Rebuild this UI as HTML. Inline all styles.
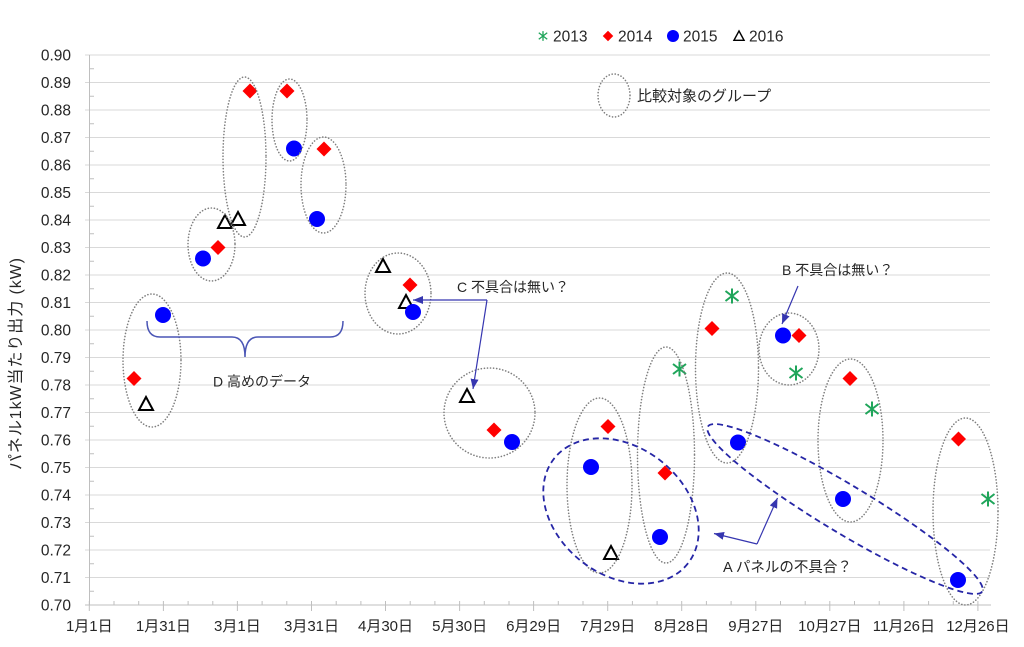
<!DOCTYPE html>
<html><head><meta charset="utf-8">
<style>
html,body{margin:0;padding:0;background:#fff;}
svg{display:block;}
text{font-family:"Liberation Sans","Noto Sans CJK JP",sans-serif;fill:#262626;}
</style></head><body>
<svg width="1024" height="647" viewBox="0 0 1024 647" xmlns="http://www.w3.org/2000/svg">
<defs>
<marker id="ah" markerUnits="userSpaceOnUse" markerWidth="10" markerHeight="8" refX="10" refY="4" orient="auto">
<path d="M0,0 L10,4 L0,8 z" fill="#3636b0"/>
</marker>
<g id="cir"><circle r="8" fill="#0000ff"/></g>
<g id="dia"><polygon points="0,-7.5 7.5,0 0,7.5 -7.5,0" fill="#ff0000"/></g>
<g id="tri"><polygon points="0,-7 7,6 -7,6" fill="#fff" stroke="#000" stroke-width="2" stroke-linejoin="miter"/></g>
<g id="ast"><path d="M0,-7.5V7.5M-6.5,-5L6.5,5M-6.5,5L6.5,-5" stroke="#1fa55a" stroke-width="2" fill="none"/></g>
</defs>

<!-- gridlines -->
<g stroke="#d9d9d9" stroke-width="1">
<line x1="85" y1="55" x2="990" y2="55"/>
<line x1="85" y1="82.5" x2="990" y2="82.5"/>
<line x1="85" y1="110" x2="990" y2="110"/>
<line x1="85" y1="137.5" x2="990" y2="137.5"/>
<line x1="85" y1="165" x2="990" y2="165"/>
<line x1="85" y1="192.5" x2="990" y2="192.5"/>
<line x1="85" y1="220" x2="990" y2="220"/>
<line x1="85" y1="247.5" x2="990" y2="247.5"/>
<line x1="85" y1="275" x2="990" y2="275"/>
<line x1="85" y1="302.5" x2="990" y2="302.5"/>
<line x1="85" y1="330" x2="990" y2="330"/>
<line x1="85" y1="357.5" x2="990" y2="357.5"/>
<line x1="85" y1="385" x2="990" y2="385"/>
<line x1="85" y1="412.5" x2="990" y2="412.5"/>
<line x1="85" y1="440" x2="990" y2="440"/>
<line x1="85" y1="467.5" x2="990" y2="467.5"/>
<line x1="85" y1="495" x2="990" y2="495"/>
<line x1="85" y1="522.5" x2="990" y2="522.5"/>
<line x1="85" y1="550" x2="990" y2="550"/>
<line x1="85" y1="577.5" x2="990" y2="577.5"/>
</g>

<!-- axes -->
<g stroke="#bfbfbf" stroke-width="1">
<line x1="89.5" y1="55" x2="89.5" y2="605"/>
<line x1="85" y1="605" x2="991" y2="605"/>
<!-- y minor ticks -->
<line x1="90" y1="68.75" x2="94" y2="68.75"/>
<line x1="90" y1="96.25" x2="94" y2="96.25"/>
<line x1="90" y1="123.75" x2="94" y2="123.75"/>
<line x1="90" y1="151.25" x2="94" y2="151.25"/>
<line x1="90" y1="178.75" x2="94" y2="178.75"/>
<line x1="90" y1="206.25" x2="94" y2="206.25"/>
<line x1="90" y1="233.75" x2="94" y2="233.75"/>
<line x1="90" y1="261.25" x2="94" y2="261.25"/>
<line x1="90" y1="288.75" x2="94" y2="288.75"/>
<line x1="90" y1="316.25" x2="94" y2="316.25"/>
<line x1="90" y1="343.75" x2="94" y2="343.75"/>
<line x1="90" y1="371.25" x2="94" y2="371.25"/>
<line x1="90" y1="398.75" x2="94" y2="398.75"/>
<line x1="90" y1="426.25" x2="94" y2="426.25"/>
<line x1="90" y1="453.75" x2="94" y2="453.75"/>
<line x1="90" y1="481.25" x2="94" y2="481.25"/>
<line x1="90" y1="508.75" x2="94" y2="508.75"/>
<line x1="90" y1="536.25" x2="94" y2="536.25"/>
<line x1="90" y1="563.75" x2="94" y2="563.75"/>
<line x1="90" y1="591.25" x2="94" y2="591.25"/>
<!-- x major ticks -->
<line x1="89.3" y1="601" x2="89.3" y2="611"/>
<line x1="163.4" y1="601" x2="163.4" y2="611"/>
<line x1="237.4" y1="601" x2="237.4" y2="611"/>
<line x1="311.5" y1="601" x2="311.5" y2="611"/>
<line x1="385.5" y1="601" x2="385.5" y2="611"/>
<line x1="459.6" y1="601" x2="459.6" y2="611"/>
<line x1="533.6" y1="601" x2="533.6" y2="611"/>
<line x1="607.7" y1="601" x2="607.7" y2="611"/>
<line x1="681.7" y1="601" x2="681.7" y2="611"/>
<line x1="755.8" y1="601" x2="755.8" y2="611"/>
<line x1="829.8" y1="601" x2="829.8" y2="611"/>
<line x1="903.9" y1="601" x2="903.9" y2="611"/>
<line x1="977.9" y1="601" x2="977.9" y2="611"/>
<!-- x minor ticks -->
<line x1="114" y1="601" x2="114" y2="605"/><line x1="138.7" y1="601" x2="138.7" y2="605"/>
<line x1="188.1" y1="601" x2="188.1" y2="605"/><line x1="212.8" y1="601" x2="212.8" y2="605"/>
<line x1="262.1" y1="601" x2="262.1" y2="605"/><line x1="286.8" y1="601" x2="286.8" y2="605"/>
<line x1="336.2" y1="601" x2="336.2" y2="605"/><line x1="360.9" y1="601" x2="360.9" y2="605"/>
<line x1="410.2" y1="601" x2="410.2" y2="605"/><line x1="434.9" y1="601" x2="434.9" y2="605"/>
<line x1="484.3" y1="601" x2="484.3" y2="605"/><line x1="509" y1="601" x2="509" y2="605"/>
<line x1="558.3" y1="601" x2="558.3" y2="605"/><line x1="583" y1="601" x2="583" y2="605"/>
<line x1="632.4" y1="601" x2="632.4" y2="605"/><line x1="657.1" y1="601" x2="657.1" y2="605"/>
<line x1="706.4" y1="601" x2="706.4" y2="605"/><line x1="731.1" y1="601" x2="731.1" y2="605"/>
<line x1="780.5" y1="601" x2="780.5" y2="605"/><line x1="805.2" y1="601" x2="805.2" y2="605"/>
<line x1="854.5" y1="601" x2="854.5" y2="605"/><line x1="879.2" y1="601" x2="879.2" y2="605"/>
<line x1="928.6" y1="601" x2="928.6" y2="605"/><line x1="953.3" y1="601" x2="953.3" y2="605"/>
</g>

<!-- y labels -->
<g font-size="15.5" text-anchor="end">
<text x="71" y="60.5">0.90</text>
<text x="71" y="88">0.89</text>
<text x="71" y="115.5">0.88</text>
<text x="71" y="143">0.87</text>
<text x="71" y="170.5">0.86</text>
<text x="71" y="198">0.85</text>
<text x="71" y="225.5">0.84</text>
<text x="71" y="253">0.83</text>
<text x="71" y="280.5">0.82</text>
<text x="71" y="308">0.81</text>
<text x="71" y="335.5">0.80</text>
<text x="71" y="363">0.79</text>
<text x="71" y="390.5">0.78</text>
<text x="71" y="418">0.77</text>
<text x="71" y="445.5">0.76</text>
<text x="71" y="473">0.75</text>
<text x="71" y="500.5">0.74</text>
<text x="71" y="528">0.73</text>
<text x="71" y="555.5">0.72</text>
<text x="71" y="583">0.71</text>
<text x="71" y="610.5">0.70</text>
</g>

<!-- x labels -->
<g font-size="15" text-anchor="middle">
<text x="89.3" y="631">1月1日</text>
<text x="163.4" y="631">1月31日</text>
<text x="237.4" y="631">3月1日</text>
<text x="311.5" y="631">3月31日</text>
<text x="385.5" y="631">4月30日</text>
<text x="459.6" y="631">5月30日</text>
<text x="533.6" y="631">6月29日</text>
<text x="607.7" y="631">7月29日</text>
<text x="681.7" y="631">8月28日</text>
<text x="755.8" y="631">9月27日</text>
<text x="829.8" y="631">10月27日</text>
<text x="903.9" y="631">11月26日</text>
<text x="977.9" y="631">12月26日</text>
</g>

<!-- y axis title -->
<text transform="translate(21,364) rotate(-90)" font-size="16" text-anchor="middle" textLength="212" lengthAdjust="spacing">パネル1kW当たり出力 (kW)</text>

<!-- legend -->
<g font-size="15.5">
<g transform="translate(543,36) scale(0.65)"><use href="#ast"/></g>
<text x="553" y="41.5">2013</text>
<g transform="translate(608,36) scale(0.7)"><use href="#dia"/></g>
<text x="618" y="41.5">2014</text>
<circle cx="673" cy="36" r="6" fill="#0000ff"/>
<text x="683" y="41.5">2015</text>
<g transform="translate(739,36) scale(0.72)"><use href="#tri"/></g>
<text x="749" y="41.5">2016</text>
</g>

<!-- 2016 triangles -->
<use href="#tri" x="146" y="404"/>
<use href="#tri" x="225" y="222"/>
<use href="#tri" x="238" y="219"/>
<use href="#tri" x="383" y="266"/>
<use href="#tri" x="406" y="302"/>
<use href="#tri" x="467" y="396"/>
<use href="#tri" x="611" y="553"/>

<!-- 2014 diamonds -->
<use href="#dia" x="134" y="378.5"/>
<use href="#dia" x="218" y="247.5"/>
<use href="#dia" x="250" y="91"/>
<use href="#dia" x="287" y="91"/>
<use href="#dia" x="324" y="149"/>
<use href="#dia" x="410" y="285"/>
<use href="#dia" x="494" y="430"/>
<use href="#dia" x="608" y="426.5"/>
<use href="#dia" x="665" y="473"/>
<use href="#dia" x="712" y="328.5"/>
<use href="#dia" x="799" y="335.5"/>
<use href="#dia" x="850" y="378.5"/>
<use href="#dia" x="958.5" y="439"/>

<!-- 2015 circles -->
<use href="#cir" x="163" y="315"/>
<use href="#cir" x="203" y="258.5"/>
<use href="#cir" x="294" y="148.5"/>
<use href="#cir" x="317" y="219"/>
<use href="#cir" x="413" y="312"/>
<use href="#cir" x="512" y="442"/>
<use href="#cir" x="591" y="467"/>
<use href="#cir" x="660" y="537"/>
<use href="#cir" x="738" y="442.5"/>
<use href="#cir" x="783" y="335.5"/>
<use href="#cir" x="843" y="499"/>
<use href="#cir" x="958" y="580"/>

<!-- 2013 asterisks -->
<use href="#ast" x="679.5" y="369"/>
<use href="#ast" x="732" y="296"/>
<use href="#ast" x="796" y="373"/>
<use href="#ast" x="872" y="409"/>
<use href="#ast" x="988" y="499"/>

<!-- dotted group ellipses -->
<g fill="none" stroke="#7f7f7f" stroke-width="1.6" stroke-dasharray="0.1 3" stroke-linecap="round">
<ellipse cx="152" cy="360.5" rx="29" ry="66.5"/>
<ellipse cx="211.5" cy="244.5" rx="23.5" ry="36.5"/>
<ellipse cx="244.5" cy="157" rx="21.5" ry="80"/>
<ellipse cx="289.5" cy="120" rx="17.5" ry="41"/>
<ellipse cx="323.5" cy="185" rx="22.5" ry="48"/>
<ellipse cx="398" cy="293.5" rx="33" ry="40.5"/>
<ellipse cx="489.5" cy="413" rx="45.5" ry="45"/>
<ellipse cx="599.5" cy="485.5" rx="32.5" ry="87.5"/>
<ellipse cx="666" cy="455" rx="28.5" ry="108"/>
<ellipse cx="727" cy="368" rx="31.5" ry="95"/>
<ellipse cx="789" cy="349" rx="30" ry="36"/>
<ellipse cx="850.5" cy="440.5" rx="32.5" ry="81.5"/>
<ellipse cx="965.5" cy="511.5" rx="32.5" ry="93.5"/>
<ellipse cx="614" cy="95.5" rx="16" ry="21.5"/>
</g>

<!-- blue dashed A shapes -->
<g fill="none" stroke="#2626a6" stroke-width="1.8" stroke-dasharray="6 4">
<ellipse cx="0" cy="0" rx="85" ry="64" transform="translate(621,511) rotate(38)"/>
<ellipse cx="0" cy="0" rx="160" ry="24" transform="translate(845,509) rotate(31)"/>
</g>

<!-- brace D -->
<path d="M147,321 Q147,337 160,337 L232,337 Q245,337 245,357 Q245,337 258,337 L330,337 Q343,337 343,321" fill="none" stroke="#4a55b5" stroke-width="1.5"/>

<!-- arrows -->
<g stroke="#3636b0" stroke-width="1.2" fill="none">
<line x1="757" y1="544" x2="714" y2="533.5" marker-end="url(#ah)"/>
<line x1="757" y1="544" x2="777.5" y2="498" marker-end="url(#ah)"/>
<line x1="487" y1="300" x2="413" y2="300" marker-end="url(#ah)"/>
<line x1="487" y1="300" x2="473" y2="389" marker-end="url(#ah)"/>
<line x1="798" y1="286" x2="782" y2="324" marker-end="url(#ah)"/>
</g>

<!-- annotation texts -->
<g font-size="14" fill="#262626">
<text x="457" y="292">C 不具合は無い？</text>
<text x="782" y="275">B 不具合は無い？</text>
<text x="213" y="386.5">D 高めのデータ</text>
<text x="723" y="572" font-size="14.5">A パネルの不具合？</text>
</g>
<text x="637" y="101" font-size="15">比較対象のグループ</text>

</svg></body></html>
